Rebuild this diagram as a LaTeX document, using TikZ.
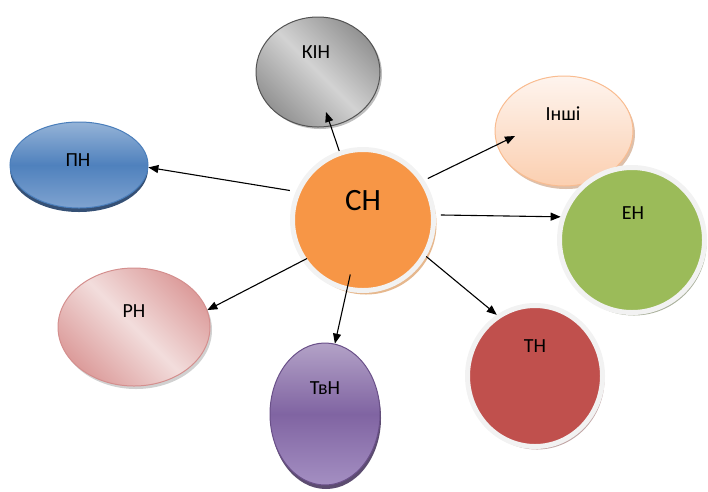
\documentclass[tikz,border=0pt]{standalone}
\usepackage{fontspec}
\setmainfont{Carlito}
\usetikzlibrary{shapes.geometric,shadows,arrows.meta,calc}
\definecolor{chor}{HTML}{F79646}
\definecolor{engr}{HTML}{9BBB59}
\definecolor{tnred}{HTML}{C0504D}
\definecolor{ringc}{HTML}{F2F2F2}
\definecolor{pnblue}{HTML}{4F81BD}
\definecolor{pntop}{HTML}{95B3D7}
\definecolor{pnbot}{HTML}{7FA3D0}
\definecolor{pnedge}{HTML}{4A7EBB}
\definecolor{pnshadow}{HTML}{1F3D66}
\definecolor{tvmid}{HTML}{8064A2}
\definecolor{tvtop}{HTML}{B3A2C7}
\definecolor{tvbot}{HTML}{A48FC2}
\definecolor{tvedge}{HTML}{6A5089}
\definecolor{intop}{HTML}{FEF4EE}
\definecolor{inbot}{HTML}{FBCFB0}
\definecolor{inedge}{HTML}{F9BC90}
\definecolor{rhdark}{HTML}{DC9C9B}
\definecolor{rhlight}{HTML}{F2DDDC}
\definecolor{rhedge}{HTML}{D48F8E}
\begin{document}
\begin{tikzpicture}[x=1pt,y=-1pt,
  lbl/.style={font=\fontsize{20}{24}\selectfont, inner sep=0pt},
  blob/.style={ellipse, inner sep=0pt},
  ringed/.style={blob, draw=ringc, line width=5pt},
  arr/.style={-{Triangle[length=10pt,width=8pt]}, line width=1.1pt}]
\useasboundingbox (0,0) rectangle (708,491);

% ПН
\node[blob, minimum width=138pt, minimum height=86pt, draw=pnedge, line width=1pt,
  drop shadow={shadow xshift=0pt, shadow yshift=-4pt, fill=pnshadow, opacity=0.9},
  top color=pntop, bottom color=pnbot, middle color=pnblue] (pn) at (79,165) {};
\node[lbl] (pnt) at (78,160) {ПН};

% КІН
\node[blob, minimum width=124pt, minimum height=110pt, draw=gray!65!black, line width=1pt,
  drop shadow={shadow xshift=2pt, shadow yshift=-2pt, fill=gray, opacity=0.5},
  top color=gray!85, bottom color=gray!85, middle color=gray!35, shading angle=-45] (kin) at (318,72) {};
\node[lbl] (kint) at (316,52) {КІН};

% РН
\node[blob, minimum width=152pt, minimum height=118pt, draw=rhedge, line width=1pt,
  drop shadow={shadow xshift=2pt, shadow yshift=-3pt, fill=gray!60, opacity=0.6},
  top color=rhdark, bottom color=rhdark, middle color=rhlight, shading angle=-45] (rh) at (134,327) {};
\node[lbl] (rht) at (134,311) {РН};

% Інші
\node[blob, minimum width=138pt, minimum height=110pt, draw=inedge, line width=1pt,
  drop shadow={shadow xshift=2pt, shadow yshift=-3pt, fill=inedge!80!black, opacity=0.6},
  top color=intop, bottom color=inbot] (inshi) at (564,131) {};
\node[lbl] (inshit) at (563,114) {Інші};

% ТвН
\node[blob, minimum width=110pt, minimum height=142pt, draw=tvedge, line width=1pt,
  drop shadow={shadow xshift=1pt, shadow yshift=-4pt, fill=tvedge!70!black, opacity=0.9},
  top color=tvtop, bottom color=tvbot, middle color=tvmid] (tvn) at (325,414) {};
\node[lbl] (tvnt) at (325,388) {ТвН};

% ЕН
\node[ringed, minimum width=145pt, minimum height=145pt, fill=engr,
  drop shadow={shadow xshift=2pt, shadow yshift=-3pt, fill=gray!70!engr, opacity=0.7}] (en) at (632,240) {};
\node[lbl] (ent) at (633,213) {ЕН};

% ТН
\node[ringed, minimum width=135pt, minimum height=141pt, fill=tnred,
  drop shadow={shadow xshift=2pt, shadow yshift=-3pt, fill=gray!60!tnred, opacity=0.6}] (tn) at (535,376) {};
\node[lbl] (tnt) at (535,346) {ТН};

% СН
\node[ringed, minimum width=141pt, minimum height=141pt, fill=chor,
  drop shadow={shadow xshift=3pt, shadow yshift=-4pt, fill=brown!60!chor, opacity=0.6}] (ch) at (363,220) {};
\node[font=\fontsize{31}{36}\selectfont, inner sep=0pt] (cht) at (363,201) {СН};

% arrows
\draw[arr] (ch.109) -- ($(kin)+(8,40)$);
\draw[arr, shorten <=6pt] (ch.157) -- (pn.-2);
\draw[arr, shorten <=4pt] (ch.33) -- ($(inshi)+(-49,5)$);
\draw[arr, shorten <=5pt] (ch.4) -- (en.162);
\draw[arr] (ch.-30) -- (tn.122);
\draw[arr, shorten <=-17pt] (ch.-103) -- (tvn.82);
\draw[arr, shorten <=-5pt] (ch.-146) -- (rh.13);
\end{tikzpicture}
\end{document}
